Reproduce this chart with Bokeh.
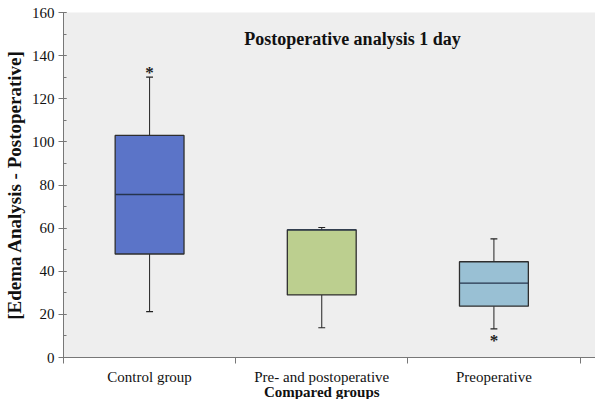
from bokeh.plotting import figure
from bokeh.models import FixedTicker, Label, ColumnDataSource, Range1d
from bokeh.layouts import column
from bokeh.embed import file_html
from bokeh.resources import INLINE
from bokeh.core.properties import value

categories = ["Control group", "Pre- and postoperative", "Preoperative"]
colors = ["#5b74c8", "#bccf8f", "#99c0d4"]
lower_whisker = [21.3, 13.8, 13.3]
q1 = [48.0, 29.0, 23.8]
median = [75.6, 59.2, 34.5]
q3 = [103.0, 59.2, 44.4]
upper_whisker = [130.0, 60.3, 55.0]
outlier_group = [0, 2]
outlier_value = [133.0, 9.0]
y_ticks = [0, 20, 40, 60, 80, 100, 120, 140, 160]
x_title = "Compared groups"
y_title = "[Edema Analysis - Postoperative]"
chart_title = "Postoperative analysis 1 day"

xs = [i + 0.5 for i in range(len(categories))]
bw = 0.4
cw = 0.02
SERIF = "Liberation Serif"

p = figure(width=595, height=365, output_backend="svg", toolbar_location=None,
           x_range=Range1d(0, 3.09), y_range=Range1d(0, 160),
           min_border_left=57, min_border_right=0, min_border_top=12, min_border_bottom=8)
p.background_fill_color = "#eeeeee"
p.border_fill_color = "white"
p.outline_line_color = None
p.grid.visible = False

src = ColumnDataSource(dict(x=xs, q1=q1, med=median, q3=q3, lo=lower_whisker, hi=upper_whisker,
                            c=colors, l=[x - cw for x in xs], r=[x + cw for x in xs]))
# whiskers
p.segment(x0="x", y0="q3", x1="x", y1="hi", source=src, line_color="#222222", line_width=1)
p.segment(x0="x", y0="lo", x1="x", y1="q1", source=src, line_color="#222222", line_width=1)
p.segment(x0="l", y0="hi", x1="r", y1="hi", source=src, line_color="#222222", line_width=1.2)
p.segment(x0="l", y0="lo", x1="r", y1="lo", source=src, line_color="#222222", line_width=1.2)
# boxes
p.vbar(x="x", width=bw, bottom="q1", top="q3", source=src, fill_color="c",
       line_color="#2e2e2e", line_width=1.3)
p.segment(x0=[x - bw / 2 for x in xs], y0=median, x1=[x + bw / 2 for x in xs], y1=median,
          line_color="#26344d", line_width=1.3)
# outliers
p.text(x=[xs[g] for g in outlier_group], y=outlier_value, text=["*"] * len(outlier_group),
       text_align="center", text_baseline="middle", text_font=value(SERIF),
       text_font_style="bold", text_font_size="17px", text_color="#222222", y_offset=2)

title = Label(x=1.678, y=147.5, text=chart_title, text_align="center",
              text_baseline="middle", text_font=SERIF, text_font_style="bold",
              text_font_size="18px", text_color="#111111")
p.add_layout(title)

xa = p.xaxis[0]
xa.ticker = FixedTicker(ticks=[], minor_ticks=[0, 1, 2, 3])
xa.axis_label = None
xa.major_tick_out = 0
xa.major_tick_in = 0
xa.minor_tick_out = 6
xa.minor_tick_in = 0
xa.major_label_standoff = 0
xa.major_label_text_font_size = "0px"
xa.axis_line_color = "#777777"
xa.minor_tick_line_color = "#777777"

ya = p.yaxis[0]
ya.ticker = FixedTicker(ticks=y_ticks, minor_ticks=list(range(0, 161, 10)))
ya.major_tick_out = 5
ya.major_tick_in = 3
ya.minor_tick_out = 0
ya.minor_tick_in = 3
ya.axis_line_color = "#777777"
ya.major_tick_line_color = "#777777"
ya.minor_tick_line_color = "#777777"
ya.major_label_text_font = SERIF
ya.major_label_text_font_size = "15px"
ya.major_label_text_color = "#111111"
ya.major_label_standoff = 4
ya.axis_label = y_title
ya.axis_label_text_font = SERIF
ya.axis_label_text_font_style = "bold"
ya.axis_label_text_font_size = "19px"
ya.axis_label_text_color = "#111111"
ya.axis_label_standoff = 4

# strip below the axis holding the category labels and the axis title
q = figure(width=595, height=34, output_backend="svg", toolbar_location=None,
           x_range=p.x_range, y_range=Range1d(0, 34),
           x_axis_location=None, y_axis_location=None,
           min_border_left=57, min_border_right=0, min_border_top=0, min_border_bottom=0)
q.background_fill_color = "white"
q.border_fill_color = "white"
q.outline_line_color = None
q.grid.visible = False
q.text(x=xs, y=[23] * len(xs), text=categories, text_align="center", text_baseline="middle",
       text_font=value(SERIF), text_font_size="15px", text_color="#111111")
q.text(x=[1.5], y=[8], text=[x_title], text_align="center", text_baseline="middle",
       text_font=value(SERIF), text_font_style="bold", text_font_size="15px",
       text_color="#111111")

layout = column(p, q, spacing=0)
open("out.html", "w").write(file_html(layout, INLINE))
